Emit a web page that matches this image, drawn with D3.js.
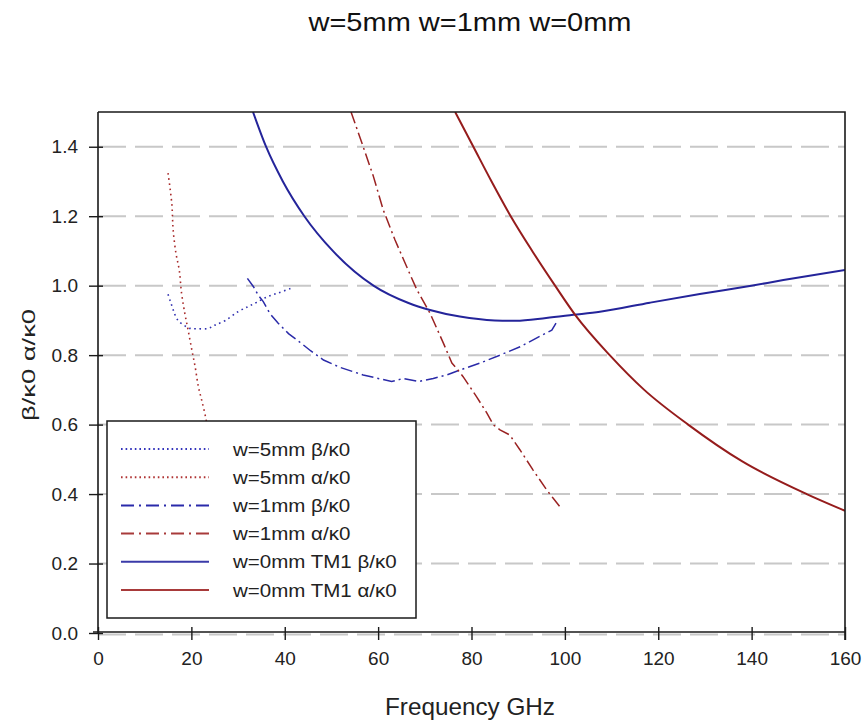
<!DOCTYPE html>
<html>
<head>
<meta charset="utf-8">
<script src="https://cdn.jsdelivr.net/npm/d3@7"></script>
<style>
  html, body { margin: 0; padding: 0; background: #fff; }
  svg { display: block; font-family: "Liberation Sans", Arial, sans-serif; }
</style>
</head>
<body>
<svg id="chart" width="865" height="724"></svg>
<script>
// ---- data (frequency in GHz, normalised constants) ----
const xTicks = [0, 20, 40, 60, 80, 100, 120, 140, 160];
const yTicks = [0.0, 0.2, 0.4, 0.6, 0.8, 1.0, 1.2, 1.4];

const w5BetaF = [15, 15.5, 16, 16.5, 17.2, 18.3, 19.7, 21.1, 23.6, 25.1, 27.2, 30, 32.2, 34, 36.1, 38.6, 41.5];
const w5BetaV = [0.975, 0.955, 0.935, 0.916, 0.899, 0.887, 0.877, 0.876, 0.877, 0.887, 0.899, 0.925, 0.94, 0.952, 0.967, 0.979, 0.993];

const w5AlphaF = [15.0, 15.8, 16.1, 16.7, 17.4, 17.9, 18.6, 19.3, 20.1, 20.8, 21.5, 22.2, 23.1, 23.6, 24.3];
const w5AlphaV = [1.324, 1.237, 1.160, 1.093, 1.045, 0.978, 0.920, 0.872, 0.815, 0.767, 0.709, 0.671, 0.618, 0.58, 0.53];

const w1BetaF = [32.0, 33.3, 34.3, 35.4, 36.8, 38.6, 40.8, 42.6, 45.6, 48.3, 51.8, 56.8, 62.9, 65.4, 68.6, 71.8, 74.7, 77.5, 81.8, 86.1, 90.4, 93.9, 97.2, 98.1];
const w1BetaV = [1.021, 0.997, 0.973, 0.954, 0.920, 0.892, 0.862, 0.844, 0.812, 0.786, 0.765, 0.743, 0.724, 0.733, 0.724, 0.733, 0.743, 0.757, 0.777, 0.800, 0.824, 0.849, 0.872, 0.892];

const w1AlphaF = [54.2, 56.8, 59.0, 61.1, 63.6, 66.1, 68.3, 71.1, 74.0, 75.8, 76.8, 78.2, 81.1, 83.3, 84.7, 86.1, 88.2, 90.4, 93.2, 96.1, 97.5, 98.9];
const w1AlphaV = [1.50, 1.400, 1.314, 1.218, 1.132, 1.055, 0.988, 0.921, 0.834, 0.777, 0.762, 0.738, 0.680, 0.633, 0.599, 0.585, 0.570, 0.527, 0.469, 0.412, 0.388, 0.364];

const w0BetaF = [33.2, 36.0, 39.6, 44.2, 50.3, 59.0, 66.5, 71.1, 77.5, 85.0, 89.5, 96.0, 101.8, 107.5, 118.2, 128.9, 139.6, 146.8, 160];
const w0BetaV = [1.50, 1.40, 1.30, 1.20, 1.10, 1.00, 0.950, 0.930, 0.911, 0.900, 0.899, 0.907, 0.916, 0.925, 0.951, 0.976, 0.999, 1.016, 1.045];

const w0AlphaF = [76.5, 80.4, 84.3, 88.4, 93.0, 97.9, 102.2, 109.6, 117.0, 126.4, 138.0, 151.8, 160];
const w0AlphaV = [1.50, 1.40, 1.30, 1.20, 1.10, 1.00, 0.916, 0.80, 0.70, 0.60, 0.494, 0.40, 0.352];

const seriesNames = ["w=5mm β/κ0", "w=5mm α/κ0", "w=1mm β/κ0", "w=1mm α/κ0", "w=0mm TM1 β/κ0", "w=0mm TM1 α/κ0"];

// ---- styles ----
const BLUE = "#24249a", RED = "#951c1c";
const series = [
  { name: seriesNames[0], f: w5BetaF, v: w5BetaV, color: "#3030b0", dash: "1.6,3.6", width: 1.6, curve: d3.curveCatmullRom },
  { name: seriesNames[1], f: w5AlphaF, v: w5AlphaV, color: "#a82a2a", dash: "1.6,3.6", width: 1.6, curve: d3.curveCatmullRom },
  { name: seriesNames[2], f: w1BetaF, v: w1BetaV, color: "#2a2aa8", dash: "12,4,2,4", width: 1.5, curve: d3.curveLinear },
  { name: seriesNames[3], f: w1AlphaF, v: w1AlphaV, color: "#9a2222", dash: "12,4,2,4", width: 1.5, curve: d3.curveLinear },
  { name: seriesNames[4], f: w0BetaF, v: w0BetaV, color: BLUE, dash: null, width: 2, curve: d3.curveMonotoneX },
  { name: seriesNames[5], f: w0AlphaF, v: w0AlphaV, color: RED, dash: null, width: 2, curve: d3.curveMonotoneX }
];

// ---- layout ----
const svg = d3.select("#chart");
const L = 98, R = 845, T = 112, B = 633;
const x = d3.scaleLinear().domain([0, 160]).range([L, R]);
const y = d3.scaleLinear().domain([0, 1.5]).range([B, T]);

function stretch(sel, factor) {
  sel.each(function () {
    const w = this.getComputedTextLength();
    d3.select(this).attr("textLength", w * factor).attr("lengthAdjust", "spacingAndGlyphs");
  });
}
function fitTo(sel, width) {
  sel.attr("textLength", width).attr("lengthAdjust", "spacingAndGlyphs");
}

// title
fitTo(svg.append("text")
  .attr("x", 470).attr("y", 31)
  .attr("text-anchor", "middle")
  .attr("font-size", 25)
  .attr("fill", "#111")
  .text("w=5mm w=1mm w=0mm"), 323);

// gridlines (dashed)
svg.append("g").selectAll("line")
  .data(yTicks)
  .join("line")
  .attr("x1", L).attr("x2", R)
  .attr("y1", d => d === 0 ? y(d) + 1.5 : y(d))
  .attr("y2", d => d === 0 ? y(d) + 1.5 : y(d))
  .attr("stroke", "#c8c8c8")
  .attr("stroke-width", 2)
  .attr("stroke-dasharray", "28,9");

// curves
svg.append("clipPath").attr("id", "plotclip")
  .append("rect").attr("x", L).attr("y", T).attr("width", R - L).attr("height", B - T);

const gLines = svg.append("g").attr("clip-path", "url(#plotclip)");
series.forEach(s => {
  const pts = s.f.map((f, i) => [f, s.v[i]]);
  const line = d3.line().x(d => x(d[0])).y(d => y(d[1])).curve(s.curve);
  gLines.append("path")
    .attr("d", line(pts))
    .attr("fill", "none")
    .attr("stroke", s.color)
    .attr("stroke-width", s.width)
    .attr("stroke-dasharray", s.dash);
});

// axes frame
const frame = svg.append("g").attr("stroke", "#1a1a1a").attr("stroke-width", 1.6).attr("fill", "none");
frame.append("path").attr("d", `M${L},${T} H${R} V${B + 7} M${L},${T} V${B} M${L - 5},${B - 1} H${R}`);

// y axis ticks + labels
const yAxis = d3.axisLeft(y).tickValues(yTicks).tickFormat(d3.format(".1f")).tickSize(9).tickPadding(11);
const gy = svg.append("g").attr("transform", `translate(${L},0)`).call(yAxis);
gy.select(".domain").remove();
gy.selectAll(".tick line").attr("stroke", "#1a1a1a").attr("stroke-width", 1.4).attr("x2", -9).attr("x1", 5);
gy.selectAll(".tick text").attr("font-size", 19).attr("fill", "#222")
  .attr("font-family", "Liberation Sans, Arial, sans-serif");

// x axis ticks + labels
const xAxis = d3.axisBottom(x).tickValues(xTicks).tickFormat(d3.format("d")).tickSize(7).tickPadding(13);
const gx = svg.append("g").attr("transform", `translate(0,${B - 1})`).call(xAxis);
gx.select(".domain").remove();
gx.selectAll(".tick line").attr("stroke", "#1a1a1a").attr("stroke-width", 1.4).attr("y1", -5).attr("y2", 8);
gx.selectAll(".tick text").attr("font-size", 19).attr("fill", "#222")
  .attr("font-family", "Liberation Sans, Arial, sans-serif");

// axis titles
fitTo(svg.append("text")
  .attr("x", 470).attr("y", 715)
  .attr("text-anchor", "middle")
  .attr("font-size", 24)
  .attr("fill", "#222")
  .text("Frequency GHz"), 170);

fitTo(svg.append("text")
  .attr("transform", "translate(35,365) rotate(-90)")
  .attr("text-anchor", "middle")
  .attr("font-size", 19)
  .attr("fill", "#222")
  .text("β/κ0 α/κ0"), 112);

// legend
const lg = svg.append("g");
lg.append("rect")
  .attr("x", 107).attr("y", 421).attr("width", 309).attr("height", 197)
  .attr("fill", "#fff").attr("stroke", "#1a1a1a").attr("stroke-width", 1.5);
const rowY = d3.scalePoint().domain(seriesNames).range([449, 590]);
const legendSwatch = [
  { color: "#3333bb", dash: "1.6,3" }, { color: "#b03333", dash: "1.6,3" },
  { color: "#2a2aaa", dash: "13,5,2,5" }, { color: "#a83a3a", dash: "13,5,2,5" },
  { color: "#3a3aa8", dash: null }, { color: "#a83a3a", dash: null }
];
series.forEach((s, i) => {
  const yy = rowY(s.name);
  lg.append("line")
    .attr("x1", 121).attr("x2", 209).attr("y1", yy).attr("y2", yy)
    .attr("stroke", legendSwatch[i].color)
    .attr("stroke-width", 2)
    .attr("stroke-dasharray", legendSwatch[i].dash);
  stretch(lg.append("text")
    .attr("x", 233).attr("y", yy + 6.5)
    .attr("font-size", 18)
    .attr("fill", "#222")
    .text(s.name), 1.14);
});
</script>
</body>
</html>
